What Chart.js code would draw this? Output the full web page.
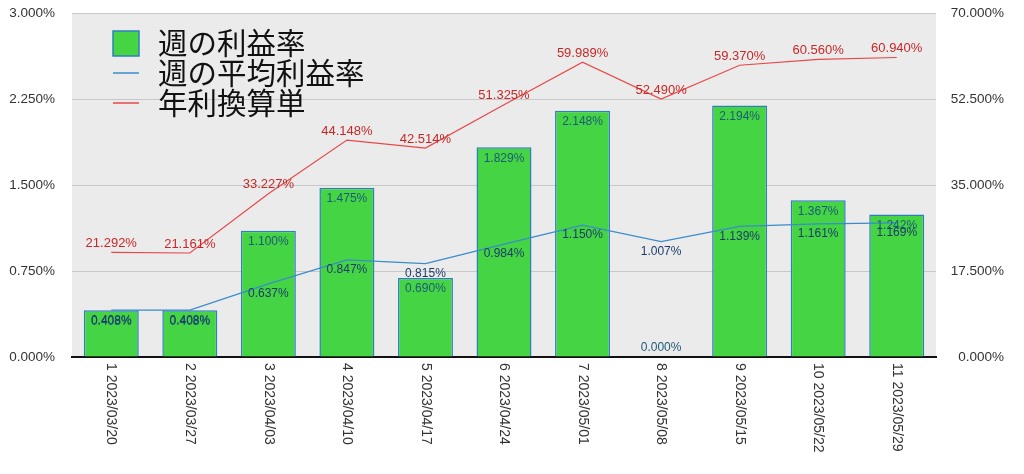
<!DOCTYPE html>
<html>
<head>
<meta charset="utf-8">
<script src="https://cdn.jsdelivr.net/npm/chart.js@4.4.0/dist/chart.umd.min.js"></script>
<style>
  html, body { margin: 0; padding: 0; background: #fff; }
  #wrap { width: 1024px; height: 474px; position: relative; }
</style>
</head>
<body>
<div id="wrap"><canvas id="mainChart"></canvas></div>
<script>
// データ
const weeks = ['1 2023/03/20', '2 2023/03/27', '3 2023/04/03', '4 2023/04/10', '5 2023/04/17', '6 2023/04/24',
               '7 2023/05/01', '8 2023/05/08', '9 2023/05/15', '10 2023/05/22', '11 2023/05/29'];
const weeklyRate = [0.408, 0.408, 1.100, 1.475, 0.690, 1.829, 2.148, 0.000, 2.194, 1.367, 1.242];
const avgRate    = [0.408, 0.408, 0.637, 0.847, 0.815, 0.984, 1.150, 1.007, 1.139, 1.161, 1.169];
const annualRate = [21.292, 21.161, 33.227, 44.148, 42.514, 51.325, 59.989, 52.490, 59.370, 60.560, 60.940];
const seriesNames = ['週の利益率', '週の平均利益率', '年利換算単'];

const leftMax = 3.0, leftStep = 0.75;
const rightMax = 70, rightStep = 17.5;

const jpFont = '"Noto Sans CJK JP", "Noto Sans", sans-serif';
const numFont = '"Liberation Sans", Arial, sans-serif';

/* ===== プロットエリア背景 ===== */
const plotBg = {
    id: 'plotBg',
    beforeDraw(chart) {
        const a = chart.chartArea;
        const ctx = chart.ctx;
        ctx.save();
        ctx.fillStyle = '#ebebeb';
        ctx.fillRect(a.left, a.top, a.right - a.left, a.bottom - a.top);
        ctx.restore();
    }
};

/* ===== 値ラベル ===== */
const valueLabels = {
    id: 'valueLabels',
    afterDatasetsDraw(chart) {
        const ctx = chart.ctx;
        ctx.save();
        ctx.textAlign = 'center';
        ctx.textBaseline = 'middle';

        // 棒グラフ
        chart.getDatasetMeta(0).data.forEach((el, i) => {
            const v = weeklyRate[i];
            ctx.font = '12px ' + numFont;
            ctx.fillStyle = '#1e5a78';
            const y = v === 0 ? el.y - 9 : el.y + 11;
            ctx.fillText(v.toFixed(3) + '%', el.x, y);
        });

        // 平均
        chart.getDatasetMeta(1).data.forEach((el, i) => {
            ctx.font = '12px ' + numFont;
            ctx.fillStyle = '#1d3c6a';
            ctx.fillText(avgRate[i].toFixed(3) + '%', el.x, el.y + 10);
        });

        // 年利
        chart.getDatasetMeta(2).data.forEach((el, i) => {
            ctx.font = '13px ' + numFont;
            ctx.fillStyle = '#c62828';
            ctx.fillText(annualRate[i].toFixed(3) + '%', el.x, el.y - 9);
        });
        ctx.restore();
    }
};

/* ===== 凡例とX軸ラベル ===== */
const extras = {
    id: 'extras',
    afterDraw(chart) {
        const ctx = chart.ctx;
        const a = chart.chartArea;
        const xs = chart.scales.x;
        ctx.save();

        // X軸ラベル (縦書き方向)
        ctx.font = '14px ' + numFont;
        ctx.fillStyle = '#333';
        ctx.textAlign = 'left';
        ctx.textBaseline = 'middle';
        weeks.forEach((w, i) => {
            ctx.save();
            ctx.translate(xs.getPixelForValue(i), a.bottom + 6);
            ctx.rotate(Math.PI / 2);
            ctx.fillText(w, 0, 0);
            ctx.restore();
        });

        // 凡例
        const lx = a.left + 41, ly = a.top + 30, gap = 30;
        ctx.font = '29.5px ' + jpFont;
        ctx.textBaseline = 'middle';

        ctx.fillStyle = '#44d444';
        ctx.fillRect(lx, ly - 12, 26, 25);
        ctx.strokeStyle = '#2f7fbf';
        ctx.lineWidth = 1.5;
        ctx.strokeRect(lx, ly - 12, 26, 25);

        ctx.strokeStyle = '#3a8ccc';
        ctx.beginPath(); ctx.moveTo(lx, ly + gap); ctx.lineTo(lx + 26, ly + gap); ctx.stroke();
        ctx.strokeStyle = '#e84848';
        ctx.beginPath(); ctx.moveTo(lx, ly + gap * 2); ctx.lineTo(lx + 26, ly + gap * 2); ctx.stroke();

        ctx.fillStyle = '#111';
        seriesNames.forEach((n, i) => ctx.fillText(n, lx + 45, ly + gap * i));
        ctx.restore();
    }
};

// 軸ラベル分の自動パディングを無効化
function fixPad(width) {
    return s => {
        s.width = width;
        s.paddingTop = 0;
        s.paddingBottom = 0;
    };
}

const ctxMain = document.getElementById('mainChart').getContext('2d');
new Chart(ctxMain, {
    data: {
        labels: weeks,
        datasets: [
            {
                type: 'bar',
                label: seriesNames[0],
                data: weeklyRate,
                backgroundColor: '#44d444',
                borderColor: '#2f7fbf',
                borderWidth: 1.5,
                barPercentage: 0.7,
                categoryPercentage: 1.0,
                yAxisID: 'y',
                order: 3
            },
            {
                type: 'line',
                label: seriesNames[1],
                data: avgRate,
                borderColor: '#3a8ccc',
                borderWidth: 1.3,
                pointRadius: 0,
                tension: 0,
                yAxisID: 'y',
                order: 1
            },
            {
                type: 'line',
                label: seriesNames[2],
                data: annualRate,
                borderColor: '#e84848',
                borderWidth: 1.2,
                pointRadius: 0,
                tension: 0,
                yAxisID: 'y2',
                order: 0
            }
        ]
    },
    options: {
        responsive: true,
        maintainAspectRatio: false,
        animation: false,
        layout: { padding: { top: 13, bottom: 117, left: 0, right: 20 } },
        plugins: {
            legend: { display: false },
            tooltip: { enabled: false }
        },
        scales: {
            x: {
                grid: { display: false, drawTicks: false },
                border: { display: true, color: '#111', width: 2 },
                ticks: { display: false }
            },
            y: {
                position: 'left',
                min: 0,
                max: leftMax,
                ticks: {
                    stepSize: leftStep,
                    padding: 17,
                    color: '#333',
                    font: { size: 13.5, family: numFont },
                    callback: v => v.toFixed(3) + '%'
                },
                grid: { color: '#c8c8c8', drawTicks: false },
                border: { display: false },
                afterFit: fixPad(72)
            },
            y2: {
                position: 'right',
                min: 0,
                max: rightMax,
                ticks: {
                    stepSize: rightStep,
                    padding: 17,
                    color: '#333',
                    crossAlign: 'far',
                    font: { size: 13.5, family: numFont },
                    callback: v => v.toFixed(3) + '%'
                },
                grid: { display: false, drawTicks: false },
                border: { display: false },
                afterFit: fixPad(68)
            }
        }
    },
    plugins: [plotBg, valueLabels, extras]
});
</script>
</body>
</html>
